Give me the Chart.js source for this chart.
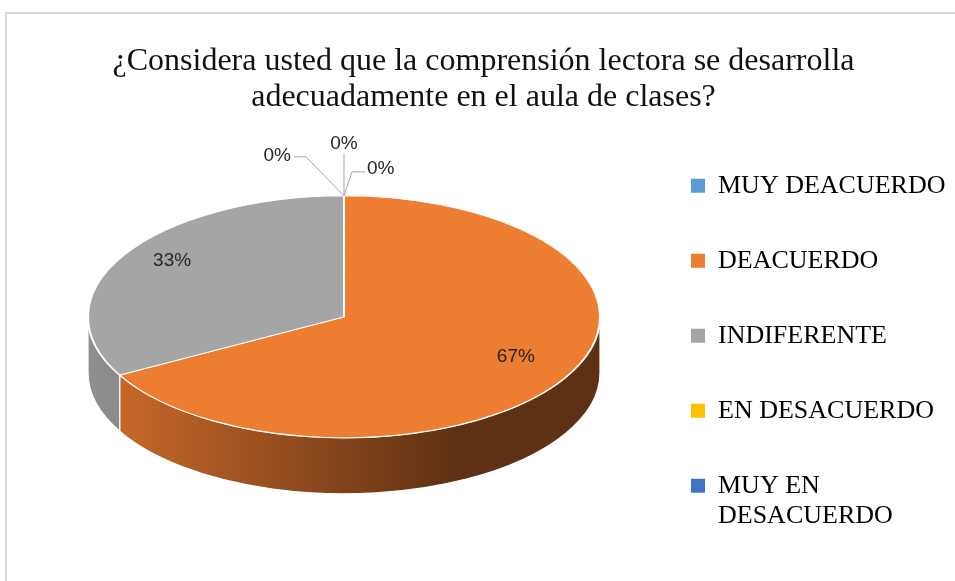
<!DOCTYPE html>
<html>
<head>
<meta charset="utf-8">
<script src="https://cdn.jsdelivr.net/npm/chart.js@4.4.0/dist/chart.umd.min.js"></script>
<style>
  body { margin: 0; background: #fff; }
</style>
</head>
<body>
<canvas id="g1" width="955" height="581"></canvas>
<script>
// data
const titleLines = ["¿Considera usted que la comprensión lectora se desarrolla", "adecuadamente en el aula de clases?"];
const categories = ["MUY DEACUERDO", "DEACUERDO", "INDIFERENTE", "EN DESACUERDO", "MUY EN DESACUERDO"];
const percentages = [0, 67, 33, 0, 0];

// style
const sliceColors = ["#5B9BD5", "#ED7D31", "#A5A5A5", "#FFC000", "#4472C4"];
const sideShades = [["#4a7fb0", "#2c4c69"], ["#d06c2b", "#5f3114"], ["#8f8f8f", "#545454"], ["#d9a300", "#7a5c00"], ["#3a62a8", "#233b65"]];
const serif = '"Liberation Serif", "Times New Roman", serif';
const PIE_RX = 256, PIE_RY = 121, PIE_DEPTH = 56;
const LABEL_RATIO = 0.78, LABEL_LIFT = 8;
const LEGEND_WRAP = 240;
// leader lines for the 0% labels, relative to the point where the slice sits
const zeroLeaders = [
  { bend: [8, -24], end: [21, -24], align: "left", dy: -3 },
  { bend: [0, -42], end: [0, -42], align: "center", dy: -10 },
  { bend: [-38, -39], end: [-50, -39], align: "right", dy: -1 }
];

const canvas = document.getElementById("g1");

// legend entries are always two rows: long names wrap, short ones get an empty row
function wrapLabel(ctx, text, maxW) {
  if (ctx.measureText(text).width <= maxW) return [text, ""];
  const words = text.split(" ");
  const lines = [];
  let cur = "";
  words.forEach(w => {
    const t = cur ? cur + " " + w : w;
    if (cur && ctx.measureText(t).width > maxW) { lines.push(cur); cur = w; }
    else cur = t;
  });
  lines.push(cur);
  return lines;
}

function drawLabels(chart) {
  const ctx = chart.ctx;
  const arcs = chart.getDatasetMeta(0).data;
  const total = percentages.reduce((a, b) => a + b, 0);
  ctx.save();
  ctx.font = '19px "Liberation Sans", Arial, sans-serif';
  ctx.fillStyle = "#262626";
  ctx.textBaseline = "middle";
  let z = 0;
  arcs.forEach((arc, i) => {
    const cx = arc.x, cy = arc.y - PIE_DEPTH / 2;
    const txt = Math.round(percentages[i] / total * 100) + "%";
    if (percentages[i] > 0) {
      const mid = (arc.startAngle + arc.endAngle) / 2;
      ctx.textAlign = "center";
      ctx.fillText(txt, cx + PIE_RX * LABEL_RATIO * Math.cos(mid), cy + PIE_RY * LABEL_RATIO * Math.sin(mid) - LABEL_LIFT);
    } else {
      const ax = cx + PIE_RX * Math.cos(arc.startAngle), ay = cy + PIE_RY * Math.sin(arc.startAngle);
      const L = zeroLeaders[z++ % zeroLeaders.length];
      ctx.strokeStyle = "#a6a6a6";
      ctx.lineWidth = 1;
      ctx.beginPath();
      ctx.moveTo(ax, ay);
      ctx.lineTo(ax + L.bend[0], ay + L.bend[1]);
      ctx.lineTo(ax + L.end[0], ay + L.end[1]);
      ctx.stroke();
      ctx.textAlign = L.align;
      const tx = ax + L.end[0] + (L.align === "left" ? 2 : L.align === "right" ? -3 : 0);
      ctx.fillText(txt, tx, ay + L.end[1] + L.dy);
    }
  });
  ctx.restore();
}

const frame = {
  id: "frame",
  beforeDraw(chart) {
    const ctx = chart.ctx;
    ctx.save();
    ctx.strokeStyle = "#d9d9d9";
    ctx.lineWidth = 2;
    ctx.strokeRect(6, 13, chart.width + 20, chart.height + 20);
    ctx.restore();
  }
};

// tilts the pie into an ellipse and draws the front wall under it
const pie3d = {
  id: "pie3d",
  beforeDatasetsDraw(chart) {
    const ctx = chart.ctx;
    const arcs = chart.getDatasetMeta(0).data;
    const ox = arcs[0].x, oy = arcs[0].y, R = arcs[0].outerRadius;
    const cx = ox, cy = oy - PIE_DEPTH / 2;
    ctx.save();
    arcs.forEach((arc, i) => {
      const s = Math.max(arc.startAngle, 0), e = Math.min(arc.endAngle, Math.PI);
      if (e - s <= 0) return;
      const g = ctx.createLinearGradient(cx - PIE_RX, 0, cx + PIE_RX, 0);
      g.addColorStop(0, sideShades[i][0]);
      g.addColorStop(0.72, sideShades[i][1]);
      g.addColorStop(1, sideShades[i][1]);
      ctx.beginPath();
      ctx.ellipse(cx, cy, PIE_RX, PIE_RY, 0, s, e);
      ctx.ellipse(cx, cy + PIE_DEPTH, PIE_RX, PIE_RY, 0, e, s, true);
      ctx.closePath();
      ctx.fillStyle = g;
      ctx.fill();
      ctx.strokeStyle = "#fff";
      ctx.lineWidth = 1.2;
      ctx.stroke();
    });
    ctx.restore();
    ctx.save();
    ctx.translate(cx, cy);
    ctx.scale(PIE_RX / R, PIE_RY / R);
    ctx.translate(-ox, -oy);
  },
  afterDatasetsDraw(chart) {
    chart.ctx.restore();
    drawLabels(chart);
  }
};

new Chart(canvas, {
  type: "pie",
  data: {
    labels: categories,
    datasets: [{
      data: percentages,
      backgroundColor: sliceColors,
      borderColor: "#fff",
      borderWidth: 1.5,
      clip: false
    }]
  },
  options: {
    responsive: false,
    animation: false,
    events: [],
    layout: { padding: { left: 12, right: 0, top: 0, bottom: 49 } },
    plugins: {
      title: {
        display: true,
        text: titleLines,
        color: "#111",
        font: { family: serif, size: 32, weight: "normal", lineHeight: 1.12 },
        padding: { top: 44, bottom: 42 }
      },
      legend: {
        position: "right",
        fullSize: false,
        align: "start",
        maxWidth: 279,
        labels: {
          boxWidth: 14,
          boxHeight: 14,
          padding: 15,
          color: "#111",
          font: { family: serif, size: 26, lineHeight: "30px" },
          generateLabels(chart) {
            const ctx = chart.ctx;
            ctx.save();
            ctx.font = "26px " + serif;
            const items = chart.data.labels.map((label, i) => ({
              text: wrapLabel(ctx, label, LEGEND_WRAP),
              fillStyle: sliceColors[i],
              strokeStyle: sliceColors[i],
              lineWidth: 0,
              hidden: false,
              index: i
            }));
            ctx.restore();
            return items;
          }
        }
      },
      tooltip: { enabled: false }
    }
  },
  plugins: [frame, pie3d]
});
</script>
</body>
</html>
